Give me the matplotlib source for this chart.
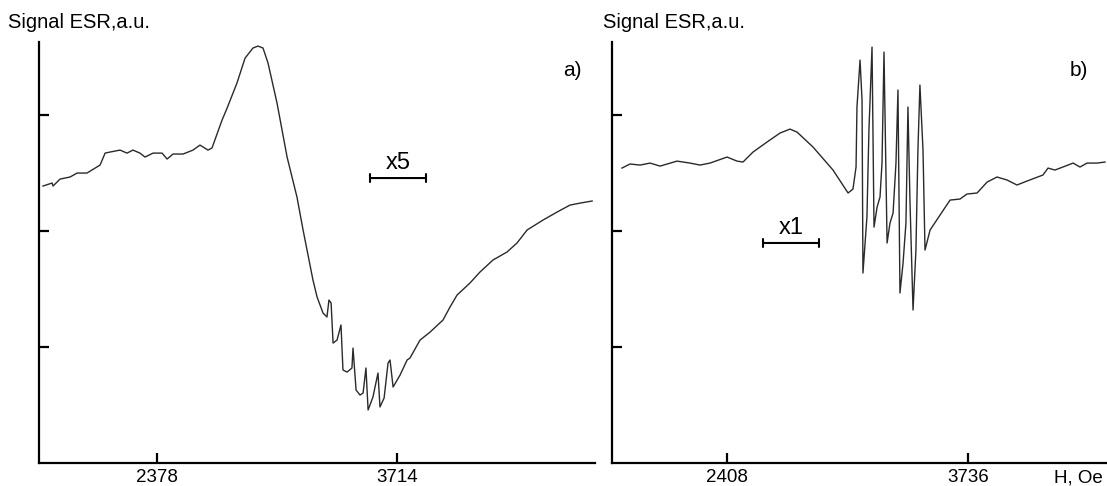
import matplotlib
matplotlib.use("Agg")
import matplotlib.pyplot as plt

plt.rcParams['font.family'] = ['Liberation Sans', 'DejaVu Sans']

# ---- data (field in Oe, signal in a.u.) ----
a_field = [1743, 1794, 1799, 1838, 1894, 1933, 1988, 2061, 2089, 2116, 2172, 2211,
           2244, 2283, 2311, 2356, 2406, 2434, 2467, 2523, 2578, 2617, 2662, 2684,
           2740, 2768, 2823, 2868, 2912, 2940, 2968, 2996, 3046, 3102, 3157, 3191,
           3246, 3269, 3302, 3324, 3335, 3347, 3358, 3380, 3402, 3413, 3436, 3463,
           3469, 3486, 3508, 3525, 3541, 3553, 3580, 3608, 3619, 3642, 3664, 3675,
           3692, 3731, 3770, 3786, 3842, 3898, 3970, 4009, 4048, 4120, 4176, 4248,
           4326, 4382, 4438, 4527, 4605, 4677, 4733, 4800]
a_signal = [2.388, 2.414, 2.388, 2.448, 2.466, 2.500, 2.500, 2.569, 2.672, 2.681, 2.698, 2.672,
            2.698, 2.672, 2.638, 2.672, 2.672, 2.621, 2.664, 2.664, 2.698, 2.741, 2.698, 2.716,
            2.957, 3.060, 3.276, 3.491, 3.578, 3.595, 3.578, 3.448, 3.103, 2.638, 2.293, 2.009,
            1.578, 1.431, 1.293, 1.259, 1.405, 1.379, 1.034, 1.060, 1.190, 0.802, 0.784, 0.819,
            0.991, 0.629, 0.586, 0.603, 0.819, 0.457, 0.569, 0.776, 0.483, 0.560, 0.862, 0.888,
            0.655, 0.759, 0.888, 0.905, 1.060, 1.129, 1.233, 1.345, 1.448, 1.552, 1.647, 1.750,
            1.819, 1.897, 2.009, 2.095, 2.164, 2.224, 2.241, 2.259]

b_field = [1829, 1873, 1929, 1984, 2039, 2132, 2204, 2259, 2314, 2408, 2463, 2496,
           2551, 2628, 2700, 2755, 2794, 2882, 2992, 3075, 3102, 3119, 3124, 3141,
           3152, 3157, 3179, 3190, 3207, 3218, 3235, 3251, 3262, 3273, 3290, 3306,
           3323, 3339, 3350, 3361, 3378, 3394, 3405, 3416, 3433, 3449, 3460, 3471,
           3488, 3499, 3527, 3582, 3637, 3692, 3730, 3786, 3841, 3896, 3951, 4006,
           4061, 4149, 4177, 4215, 4259, 4315, 4353, 4392, 4447, 4491]
b_signal = [2.543, 2.578, 2.569, 2.586, 2.560, 2.603, 2.586, 2.569, 2.586, 2.638, 2.603, 2.595,
            2.681, 2.767, 2.845, 2.879, 2.853, 2.724, 2.526, 2.328, 2.362, 2.552, 3.069, 3.474,
            3.129, 1.638, 2.121, 2.871, 3.586, 2.034, 2.207, 2.293, 2.586, 3.543, 1.897, 2.069,
            2.155, 2.586, 3.216, 1.466, 1.724, 2.069, 3.069, 2.267, 1.319, 1.836, 2.698, 3.259,
            2.698, 1.836, 2.009, 2.138, 2.267, 2.276, 2.319, 2.328, 2.422, 2.466, 2.440, 2.397,
            2.431, 2.483, 2.543, 2.526, 2.552, 2.586, 2.552, 2.586, 2.586, 2.595]

a_ticks = [2378, 3714]
b_ticks = [2408, 3736]
y_ticks = [1, 2, 3]

W, H = 1107, 486
fig = plt.figure(figsize=(W / 100, H / 100), dpi=100)

def px_axes(x0, x1, y0, y1):
    return fig.add_axes([x0 / W, 1 - y1 / H, (x1 - x0) / W, (y1 - y0) / H])

ax1 = px_axes(39, 595, 42, 463)
ax2 = px_axes(612, 1107, 42, 463)

for ax, xs, ys, ticks, xlim in [(ax1, a_field, a_signal, a_ticks, (1721, 4816)),
                                (ax2, b_field, b_signal, b_ticks, (1774, 4502))]:
    ax.plot(xs, ys, color='#2a2a2a', lw=1.0)
    ax.set_xlim(*xlim)
    ax.set_ylim(0, 3.63)
    ax.set_xticks(ticks)
    ax.set_xticklabels([str(t) for t in ticks])
    ax.set_yticks(y_ticks)
    ax.set_yticklabels([])
    for s in ['top', 'right']:
        ax.spines[s].set_visible(False)
    for s in ['left', 'bottom']:
        ax.spines[s].set_linewidth(1.6)
        ax.spines[s].set_color('black')
    ax.tick_params(direction='in', length=7, width=1.6, labelsize=13.5, pad=4)

# scale markers
ax1.annotate('', xy=(3564, 2.457), xytext=(3875, 2.457),
             arrowprops=dict(arrowstyle='|-|,widthA=0.3,widthB=0.3', lw=1.5, color='black',
                             shrinkA=0, shrinkB=0))
ax1.text(3720, 2.49, 'x5', ha='center', va='bottom', fontsize=17)
ax2.annotate('', xy=(2606, 1.897), xytext=(2915, 1.897),
             arrowprops=dict(arrowstyle='|-|,widthA=0.3,widthB=0.3', lw=1.5, color='black',
                             shrinkA=0, shrinkB=0))
ax2.text(2761, 1.93, 'x1', ha='center', va='bottom', fontsize=17)

fig.text(572 / W, 1 - 70 / H, 'a)', ha='center', va='center', fontsize=15)
fig.text(1079 / W, 1 - 70 / H, 'b)', ha='center', va='center', fontsize=15)

fig.text(8 / W, 1 - 22 / H, 'Signal ESR,a.u.', ha='left', va='center', fontsize=14.5)
fig.text(603 / W, 1 - 22 / H, 'Signal ESR,a.u.', ha='left', va='center', fontsize=14.5)
fig.text(1078 / W, 1 - 478 / H, 'H, Oe', ha='center', va='center', fontsize=13.5)

fig.savefig('out.png', dpi=100)
